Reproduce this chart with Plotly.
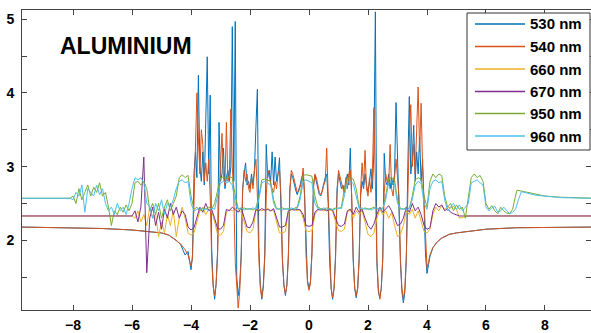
import numpy as np
import plotly.graph_objects as go

labels = ["530 nm", "540 nm", "660 nm", "670 nm", "950 nm", "960 nm"]
colors = ["#0072BD", "#D95319", "#EDB120", "#7E2F8E", "#77AC30", "#4DBEEE"]

# ---------- 530 / 540 nm : dense sampling in the centre (step 0.05 from -4.0) ----------
AB_START, AB_STEP = -4.0, 0.05
ab_left_x = [-9.8, -9, -8, -7, -6, -5.5, -5, -4.75, -4.5, -4.35, -4.2, -4.1, -4.05]
ab_right_x = [4.05, 4.1, 4.2, 4.35, 4.5, 4.75, 5.0, 5.5, 6, 7, 8, 9.7]

y530_left = [2.18, 2.175, 2.17, 2.16, 2.14, 2.12, 2.1, 2.07, 2.0, 1.94, 1.8, 1.85, 1.7]
y530_mid = [
    1.6, 1.8, 2.9, 3.2, 2.85, 4.24, 3.0, 2.8, 3.2, 2.75,
    3.52, 4.49, 2.9, 3.97, 1.9, 1.4, 1.2, 1.4, 1.85, 3.6,
    2.8, 2.9, 3.25, 2.7, 2.85, 2.95, 2.8, 3.0, 4.9, 2.8,
    4.97, 1.5, 1.25, 1.4, 1.8, 2.7, 2.9, 3.05, 2.75, 2.8,
    2.7, 2.9, 2.75, 2.95, 3.54, 4.05, 1.9, 1.4, 1.2, 1.4,
    1.8, 3.3, 2.85, 2.95, 2.8, 3.2, 2.75, 3.13, 2.8, 2.9,
    3.12, 2.5, 1.7, 1.4, 1.25, 1.4, 1.8, 2.7, 2.9, 2.85,
    2.75, 2.68, 2.62, 2.68, 2.75, 2.85, 2.9, 2.6, 1.85, 1.45,
    1.35, 1.45, 1.85, 2.75, 2.88, 2.8, 2.7, 2.62, 2.6, 2.7,
    2.8, 2.85, 2.9, 2.5, 1.7, 1.35, 1.2, 1.35, 1.8, 2.7,
    2.9, 2.8, 2.7, 2.75, 2.65, 2.8, 2.9, 2.75, 3.25, 2.5,
    1.7, 1.35, 1.22, 1.35, 1.75, 2.6, 2.8, 2.7, 2.9, 2.75,
    2.65, 2.8, 2.97, 2.7, 3.2, 5.1, 1.7, 1.3, 1.22, 1.35,
    1.75, 3.18, 2.8, 2.75, 2.9, 2.7, 2.85, 2.75, 2.9, 3.87,
    3.1, 2.5, 1.7, 1.3, 1.15, 1.3, 1.75, 3.0, 3.95, 2.9,
    3.1, 3.56, 2.8, 3.2, 2.9, 3.4, 2.8, 3.1, 2.4, 1.8,
    1.55,
]
y530_right = [1.68, 1.78, 1.9, 1.98, 2.03, 2.08, 2.1, 2.13, 2.15, 2.17, 2.175, 2.18]

y540_left = [2.18, 2.175, 2.17, 2.16, 2.14, 2.12, 2.1, 2.07, 2.0, 1.95, 1.87, 1.8, 1.72]
y540_mid = [
    1.65, 1.75, 2.6, 3.3, 4.0, 3.4, 2.9, 3.5, 3.3, 2.8,
    3.05, 2.8, 3.1, 2.6, 1.75, 1.38, 1.25, 1.4, 1.8, 2.6,
    3.0, 3.45, 2.85, 2.75, 3.6, 2.8, 2.9, 3.78, 3.0, 2.6,
    1.7, 1.3, 1.08, 1.3, 1.75, 2.65, 2.95, 2.8, 2.9, 2.7,
    2.65, 2.85, 2.7, 2.95, 3.1, 2.6, 1.75, 1.35, 1.22, 1.35,
    1.75, 2.6, 2.95, 2.9, 2.75, 2.7, 2.65, 2.8, 2.7, 2.9,
    2.95, 2.6, 1.75, 1.38, 1.27, 1.38, 1.75, 2.65, 2.95, 2.9,
    2.8, 2.7, 2.65, 2.66, 2.72, 2.8, 2.98, 2.65, 1.8, 1.42,
    1.32, 1.42, 1.8, 2.7, 2.9, 2.85, 2.75, 2.65, 2.62, 2.66,
    2.75, 2.8, 3.25, 2.6, 1.75, 1.35, 1.22, 1.35, 1.75, 2.6,
    2.95, 2.85, 2.75, 2.7, 2.65, 2.85, 2.7, 2.9, 2.95, 2.6,
    1.75, 1.35, 1.25, 1.35, 1.75, 2.7, 3.05, 2.75, 3.22, 2.7,
    2.6, 2.85, 2.65, 2.9, 3.8, 2.6, 1.75, 1.35, 1.2, 1.35,
    1.75, 2.65, 2.9, 2.8, 2.75, 3.3, 2.7, 2.6, 2.9, 3.1,
    2.85, 2.6, 1.75, 1.35, 1.2, 1.35, 1.8, 2.7, 3.4, 3.84,
    3.0, 3.3, 2.9, 3.5, 4.08, 3.2, 3.86, 3.0, 2.5, 1.9,
    1.62,
]
y540_right = [1.7, 1.8, 1.9, 1.98, 2.03, 2.08, 2.1, 2.13, 2.15, 2.17, 2.175, 2.18]

# ---------- 660 / 670 nm : step 0.1 from -6.0 ----------
CD_START, CD_STEP = -6.0, 0.1
cd_left_x = [-9.8]
cd_right_x = [5.4, 9.7]

y660_mid = [
    2.33, 2.3, 2.4, 2.25, 2.35, 2.2, 2.45, 2.3, 2.35, 2.05,
    2.25, 2.1, 2.35, 2.2, 2.4, 2.05, 2.3, 2.45, 2.3, 2.1,
    2.07, 2.1, 2.25, 2.4, 2.45, 2.35, 2.42, 2.4, 2.25, 2.08,
    2.07, 2.12, 2.38, 2.42, 2.4, 2.43, 2.4, 2.38, 2.25, 2.12,
    2.1, 2.15, 2.4, 2.42, 2.4, 2.41, 2.43, 2.4, 2.41, 2.25,
    2.1, 2.1, 2.12, 2.38, 2.41, 2.42, 2.4, 2.42, 2.3, 2.13,
    2.12, 2.13, 2.35, 2.41, 2.42, 2.4, 2.42, 2.41, 2.4, 2.25,
    2.13, 2.12, 2.15, 2.38, 2.42, 2.3, 2.4, 2.35, 2.4, 2.25,
    2.08, 2.05, 2.1, 2.3, 2.42, 2.35, 2.4, 2.3, 2.38, 2.2,
    2.05, 2.08, 2.2, 2.4, 2.35, 2.42, 2.3, 2.4, 2.25, 2.12,
    2.1, 2.15, 2.35, 2.45, 2.4, 2.47, 2.42, 2.45, 2.44, 2.46,
    2.42, 2.3, 2.31,
]
y670_mid = [
    2.33, 2.4, 2.25, 2.45, 3.13, 1.56, 2.3, 2.45, 2.2, 2.38,
    2.15, 2.42, 2.3, 2.5, 2.35, 2.45, 2.3, 2.4, 2.35, 2.18,
    2.14, 2.17, 2.3, 2.45, 2.38, 2.5, 2.4, 2.42, 2.3, 2.16,
    2.15, 2.2, 2.42, 2.4, 2.45, 2.42, 2.38, 2.44, 2.3, 2.18,
    2.17, 2.25, 2.42, 2.4, 2.43, 2.41, 2.42, 2.4, 2.43, 2.3,
    2.18, 2.18, 2.2, 2.4, 2.42, 2.41, 2.42, 2.41, 2.35, 2.2,
    2.19, 2.2, 2.38, 2.42, 2.41, 2.42, 2.4, 2.42, 2.41, 2.3,
    2.2, 2.19, 2.22, 2.4, 2.42, 2.35, 2.45, 2.38, 2.42, 2.3,
    2.2, 2.15, 2.22, 2.35, 2.45, 2.38, 2.42, 2.47, 2.4, 2.3,
    2.2, 2.22, 2.3, 2.45, 2.38, 2.5, 2.4, 2.45, 2.35, 2.2,
    2.15, 2.17, 2.4, 2.5, 2.45, 2.48, 2.4, 2.43, 2.38, 2.36,
    2.34, 2.33, 2.33,
]
y660_left, y660_right = [2.33], [2.33, 2.33]
y670_left, y670_right = [2.33], [2.33, 2.33]

# ---------- 950 / 960 nm : step 0.1 from -8.0 ----------
EF_START, EF_STEP = -8.0, 0.1
ef_left_x = [-9.8, -8.1]
y950_mid = [
    2.6, 2.5, 2.7, 2.55, 2.65, 2.75, 2.6, 2.72, 2.65, 2.78,
    2.6, 2.65, 2.45, 2.2, 2.4, 2.35, 2.45, 2.38, 2.48, 2.4,
    2.5, 2.78, 2.8, 2.75, 2.8, 2.7, 2.4, 2.5, 2.35, 2.5,
    2.3, 2.45, 2.55, 2.4, 2.5, 2.6, 2.85, 2.89, 2.85, 2.88,
    2.6, 2.42, 2.45, 2.4, 2.44, 2.42, 2.45, 2.42, 2.5, 2.7,
    2.85, 2.86, 2.84, 2.86, 2.85, 2.6, 2.43, 2.42, 2.44, 2.42,
    2.43, 2.41, 2.44, 2.6, 2.82, 2.83, 2.82, 2.8, 2.55, 2.43,
    2.42, 2.44, 2.42, 2.43, 2.42, 2.44, 2.45, 2.6, 2.88, 2.89,
    2.88, 2.87, 2.6, 2.45, 2.43, 2.42, 2.44, 2.43, 2.42, 2.44,
    2.43, 2.45, 2.7, 2.84, 2.85, 2.83, 2.7, 2.45, 2.42, 2.44,
    2.42, 2.43, 2.45, 2.42, 2.44, 2.43, 2.6, 2.84, 2.85, 2.82,
    2.55, 2.43, 2.42, 2.45, 2.43, 2.6, 2.82, 2.85, 2.83, 2.6,
    2.45, 2.8, 2.9, 2.85, 2.9, 2.88, 2.6, 2.45, 2.5, 2.4,
    2.48, 2.42, 2.45, 2.3, 2.55, 2.85, 2.9, 2.85, 2.88, 2.8,
    2.5, 2.42, 2.47, 2.4, 2.36, 2.45, 2.4, 2.37, 2.36, 2.42,
    2.6,
]
y960_mid = [
    2.55, 2.65, 2.6, 2.75, 2.38, 2.7, 2.65, 2.6, 2.75, 2.62,
    2.7, 2.5, 2.4, 2.45, 2.35, 2.5, 2.4, 2.45, 2.35, 2.5,
    2.7, 2.85, 2.82, 2.85, 2.78, 2.5, 2.45, 2.3, 2.5, 2.4,
    2.55, 2.35, 2.5, 2.45, 2.55, 2.7, 2.8, 2.82, 2.78, 2.8,
    2.5, 2.4, 2.42, 2.44, 2.41, 2.43, 2.4, 2.44, 2.42, 2.6,
    2.78, 2.8, 2.78, 2.8, 2.75, 2.5, 2.42, 2.44, 2.41, 2.43,
    2.42, 2.44, 2.42, 2.55, 2.78, 2.8, 2.78, 2.75, 2.5, 2.42,
    2.43, 2.41, 2.43, 2.42, 2.44, 2.42, 2.43, 2.55, 2.8, 2.82,
    2.8, 2.78, 2.5, 2.43, 2.42, 2.44, 2.42, 2.43, 2.41, 2.42,
    2.44, 2.43, 2.6, 2.78, 2.8, 2.77, 2.6, 2.43, 2.44, 2.42,
    2.43, 2.41, 2.43, 2.44, 2.42, 2.43, 2.55, 2.78, 2.8, 2.76,
    2.5, 2.42, 2.43, 2.41, 2.44, 2.55, 2.75, 2.8, 2.77, 2.5,
    2.42, 2.7, 2.8, 2.82, 2.78, 2.8, 2.55, 2.4, 2.45, 2.5,
    2.42, 2.48, 2.4, 2.45, 2.5, 2.78, 2.8, 2.82, 2.78, 2.75,
    2.45, 2.4, 2.44, 2.46, 2.38, 2.4, 2.45, 2.4, 2.36, 2.38,
    2.42,
]
y950_left, y960_left = [2.57, 2.57], [2.57, 2.57]
x950_right = [7.05, 7.3, 7.6, 8.0, 8.5, 9.0, 9.7]
y950_right = [2.68, 2.66, 2.63, 2.6, 2.585, 2.575, 2.57]
x960_right = [7.1, 7.2, 7.4, 7.7, 8.0, 8.5, 9.0, 9.7]
y960_right = [2.55, 2.66, 2.64, 2.61, 2.6, 2.58, 2.575, 2.57]


def grid(start, step, vals):
    return list(np.round(start + step * np.arange(len(vals)), 3))


series = [
    (ab_left_x + grid(AB_START, AB_STEP, y530_mid) + ab_right_x, y530_left + y530_mid + y530_right),
    (ab_left_x + grid(AB_START, AB_STEP, y540_mid) + ab_right_x, y540_left + y540_mid + y540_right),
    (cd_left_x + grid(CD_START, CD_STEP, y660_mid) + cd_right_x, y660_left + y660_mid + y660_right),
    (cd_left_x + grid(CD_START, CD_STEP, y670_mid) + cd_right_x, y670_left + y670_mid + y670_right),
    (ef_left_x + grid(EF_START, EF_STEP, y950_mid) + x950_right, y950_left + y950_mid + y950_right),
    (ef_left_x + grid(EF_START, EF_STEP, y960_mid) + x960_right, y960_left + y960_mid + y960_right),
]

W, H = 591, 333
ML, MR, MT, MB = 22, 0, 10, 23
PW, PH = W - ML - MR, H - MT - MB


def px(xp):
    return (xp - ML) / PW


def py(yp):
    return (H - MB - yp) / PH


fig = go.Figure()
for (xs, ys), name, col in zip(series, labels, colors):
    fig.add_trace(go.Scatter(x=xs, y=ys, mode="lines", name=name,
                             line=dict(color=col, width=1), hoverinfo="skip",
                             showlegend=False))

FONT = "Liberation Sans, Arial, sans-serif"
fig.add_annotation(x=-8.5, y=4.63, xref="x", yref="y", text="<b>ALUMINIUM</b>",
                   showarrow=False, xanchor="left", yanchor="middle",
                   font=dict(family=FONT, size=23, color="black"))

# legend box drawn as layout shapes / text
shapes = [dict(type="rect", xref="paper", yref="paper",
               x0=px(467), x1=px(590), y0=py(150), y1=py(13),
               line=dict(color="#333333", width=1), fillcolor="white", layer="above")]
entry_y = [24, 46.5, 69, 91.5, 113.5, 136]
for name, col, ey in zip(labels, colors, entry_y):
    shapes.append(dict(type="line", xref="paper", yref="paper",
                       x0=px(475), x1=px(525), y0=py(ey), y1=py(ey),
                       line=dict(color=col, width=1.5), layer="above"))
    fig.add_annotation(x=px(528), y=py(ey), xref="paper", yref="paper",
                       text=f"<b>{name}</b>", showarrow=False,
                       xanchor="left", yanchor="middle",
                       font=dict(family=FONT, size=15, color="black"))

x_ticks = [-8, -6, -4, -2, 0, 2, 4, 6, 8]
y_ticks = [1.5, 2, 2.5, 3, 3.5, 4, 4.5, 5]
y_ticktext = ["", "2", "", "3", "", "4", "", "5"]

fig.update_layout(
    width=W, height=H,
    margin=dict(l=ML, r=MR, t=MT, b=MB),
    paper_bgcolor="white", plot_bgcolor="white",
    font=dict(family=FONT, color="black"),
    showlegend=False,
    shapes=shapes,
    xaxis=dict(range=[-9.73, 9.56], tickvals=x_ticks, ticks="inside", ticklen=5,
               tickcolor="#444", showline=True, linecolor="#444", linewidth=1,
               mirror="ticks", showgrid=False, zeroline=False, automargin=False,
               tickfont=dict(family=FONT, size=14, color="black", weight="bold"),
               ticklabelstandoff=2),
    yaxis=dict(range=[1.054, 5.125], tickvals=y_ticks, ticktext=y_ticktext,
               ticks="inside", ticklen=5, tickcolor="#444", showline=True,
               linecolor="#444", linewidth=1, mirror="ticks", showgrid=False,
               zeroline=False, automargin=False,
               tickfont=dict(family=FONT, size=14, color="black", weight="bold"),
               ticklabelstandoff=4),
)

fig.write_html("out.html",
               config={"displayModeBar": False, "staticPlot": True},
               post_script="document.body.style.margin='0';document.body.style.overflow='hidden';")
